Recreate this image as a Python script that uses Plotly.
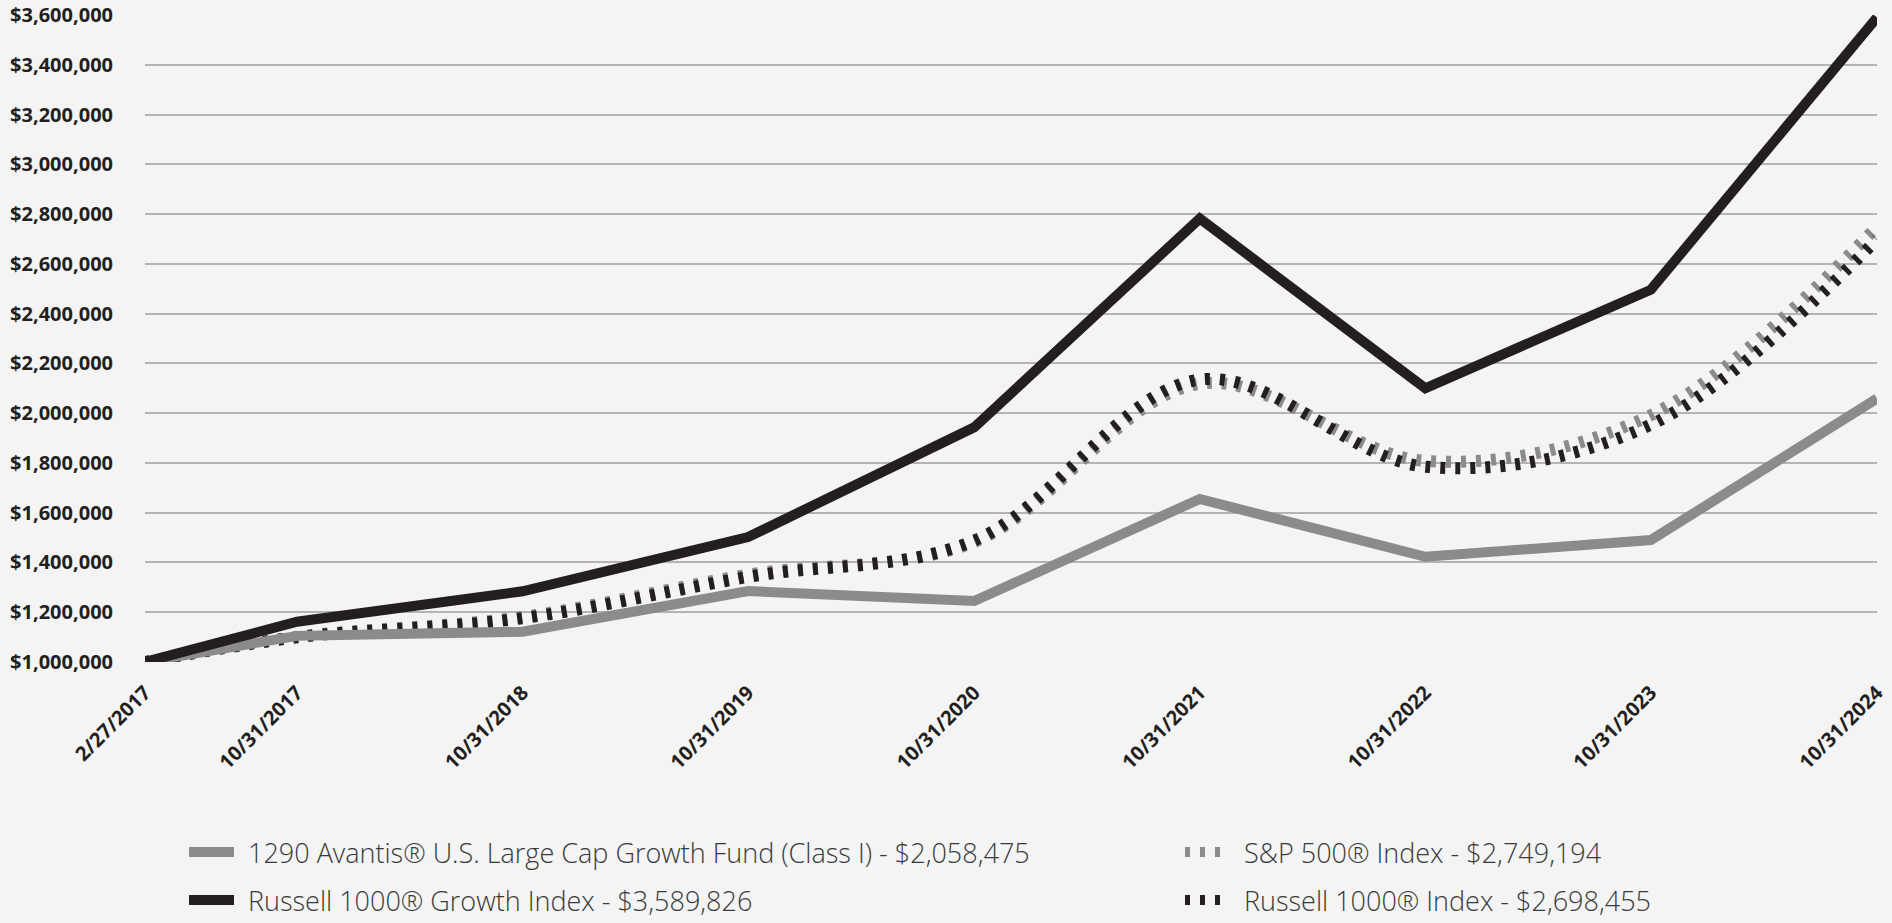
import plotly.graph_objects as go

dates = ["2017-02-27", "2017-10-31", "2018-10-31", "2019-10-31", "2020-10-31",
         "2021-10-31", "2022-10-31", "2023-10-31", "2024-10-31"]
tick_labels = ["2/27/2017", "10/31/2017", "10/31/2018", "10/31/2019", "10/31/2020",
               "10/31/2021", "10/31/2022", "10/31/2023", "10/31/2024"]

fund = [1000000, 1105000, 1122000, 1285000, 1245000, 1655000, 1423000, 1490000, 2058475]
r1000g = [1000000, 1162000, 1284000, 1502000, 1943000, 2782000, 2100000, 2496000, 3589826]
sp500 = [1000000, 1101000, 1181000, 1351000, 1482000, 2118000, 1808000, 1992000, 2749194]
r1000 = [1000000, 1099000, 1176000, 1342000, 1488000, 2135000, 1785000, 1954000, 2698455]

names = [
    "1290 Avantis\u00ae U.S. Large Cap Growth Fund (Class I) - $2,058,475",
    "Russell 1000\u00ae Growth Index - $3,589,826",
    "S&P 500\u00ae Index - $2,749,194",
    "Russell 1000\u00ae Index - $2,698,455",
]

y_ticks = list(range(1000000, 3600001, 200000))
y_tick_text = ["${:,.0f}".format(v) for v in y_ticks]

BLACK = "#231f20"
GRAY = "#8b8b8d"
SP = "\u2009\u2009"

fig = go.Figure()
fig.add_trace(go.Scatter(x=dates, y=sp500, name=SP + names[2], mode="lines",
                         line=dict(color=GRAY, width=12, dash="5px,10px", shape="spline"),
                         legend="legend3"))
fig.add_trace(go.Scatter(x=dates, y=r1000, name=SP + names[3], mode="lines",
                         line=dict(color=BLACK, width=12, dash="5px,10px", shape="spline"),
                         legend="legend4"))
fig.add_trace(go.Scatter(x=dates, y=fund, name=SP + names[0], mode="lines",
                         line=dict(color=GRAY, width=10),
                         legend="legend"))
fig.add_trace(go.Scatter(x=dates, y=r1000g, name=SP + names[1], mode="lines",
                         line=dict(color=BLACK, width=10),
                         legend="legend2"))

legend_font = dict(family="Open Sans", size=27, color="#3a3a3a", weight=300)

PL, PT, PW, PH = 145, 15, 1732, 647


def px_x(px):
    return (px - PL) / PW


def px_y(py):
    return (PT + PH - py) / PH


def legend_box(left_px, center_px):
    return dict(x=px_x(left_px), y=px_y(center_px - 24),
                xanchor="left", yanchor="top", orientation="v",
                itemwidth=45, font=legend_font, bgcolor="rgba(0,0,0,0)",
                borderwidth=0)


fig.update_layout(
    width=1892, height=923,
    margin=dict(l=PL, r=1892 - PL - PW, t=PT, b=923 - PT - PH, autoexpand=False),
    paper_bgcolor="#f3f4f3",
    plot_bgcolor="#f3f4f3",
    showlegend=True,
    legend=legend_box(184, 852),
    legend2=legend_box(184, 900),
    legend3=legend_box(1180, 852),
    legend4=legend_box(1180, 900),
    xaxis=dict(
        type="date",
        range=["2017-02-27", "2024-10-31"],
        tickvals=dates, ticktext=tick_labels,
        tickangle=-45,
        tickfont=dict(family="Open Sans", size=20, color=BLACK, weight=700),
        showgrid=False, zeroline=False, showline=False,
        ticklabelstandoff=14,
        automargin=False,
    ),
    yaxis=dict(
        range=[1000000, 3600000],
        tickvals=y_ticks, ticktext=y_tick_text,
        tickfont=dict(family="Open Sans", size=20, color=BLACK, weight=700),
        showgrid=True, gridcolor="#b4b4b4", gridwidth=2,
        zeroline=False, showline=False,
        ticklabelstandoff=31,
        automargin=False,
    ),
)

fig.write_html("out.html",
               config={"displayModeBar": False},
               post_script="document.body.style.margin='0';document.body.style.padding='0';")
